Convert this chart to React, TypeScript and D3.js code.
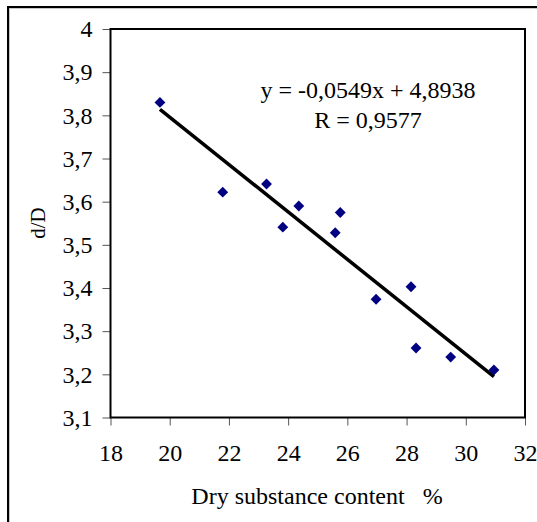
import * as d3 from "d3";
import React, { useRef, useEffect } from "react";

// measured points: dry substance content (%) vs d/D
const dryContent = [19.67, 21.79, 23.27, 23.82, 24.36, 25.59, 25.76, 26.97, 28.15, 28.32, 29.49, 30.95];
const ratioDD = [3.83, 3.622, 3.641, 3.541, 3.59, 3.528, 3.575, 3.374, 3.403, 3.261, 3.24, 3.21];

const xTicks = [18, 20, 22, 24, 26, 28, 30, 32];
const yTicks = [3.1, 3.2, 3.3, 3.4, 3.5, 3.6, 3.7, 3.8, 3.9, 4];

// linear trend from the chart
const slope = -0.0549;
const intercept = 4.8938;
const equationLines = ["y = -0,0549x + 4,8938", "R = 0,9577"];

const xTitle = "Dry substance content   %";
const yTitle = "d/D";

const W = 537;
const H = 522;
const FONT = "Liberation Serif, DejaVu Serif, serif";

const App = () => {
  const svgRef = useRef<SVGSVGElement>(null);

  useEffect(() => {
    const svg = d3.select(svgRef.current);
    svg.selectAll("*").remove();

    const plot = { left: 110.5, right: 525, top: 29, bottom: 417.5 };

    const xScale = d3.scaleLinear().domain([18, 32]).range([plot.left, plot.right]);
    const yScale = d3.scaleLinear().domain([3.1, 4]).range([plot.bottom, plot.top]);

    const comma = (d: number) => String(d).replace(".", ",");

    // outer chart frame (runs off the picture at right and bottom)
    svg
      .append("rect")
      .attr("x", 9.5)
      .attr("y", 8.5)
      .attr("width", W)
      .attr("height", H)
      .attr("fill", "none")
      .attr("stroke", "#c8c8c8")
      .attr("stroke-width", 1);
    svg
      .append("rect")
      .attr("x", 8)
      .attr("y", 7)
      .attr("width", W)
      .attr("height", H)
      .attr("fill", "none")
      .attr("stroke", "#000")
      .attr("stroke-width", 2);

    // axes
    const yAxis = svg
      .append("g")
      .attr("transform", `translate(${plot.left},0)`)
      .call(d3.axisLeft(yScale).tickValues(yTicks).tickSize(8).tickPadding(10).tickFormat((d) => comma(d as number)));

    const xAxis = svg
      .append("g")
      .attr("transform", `translate(0,${plot.bottom})`)
      .call(d3.axisBottom(xScale).tickValues(xTicks).tickSize(8).tickPadding(18).tickFormat((d) => String(d)));

    [xAxis, yAxis].forEach((g) => {
      g.attr("font-family", FONT).attr("font-size", 24);
      g.select(".domain").remove();
      g.selectAll(".tick line").attr("stroke", "#555").attr("stroke-width", 1);
      g.selectAll(".tick text").attr("fill", "#000");
    });

    // plot area border
    svg
      .append("rect")
      .attr("x", plot.left)
      .attr("y", plot.top)
      .attr("width", plot.right - plot.left)
      .attr("height", plot.bottom - plot.top)
      .attr("fill", "none")
      .attr("stroke", "#000")
      .attr("stroke-width", 2);

    // trend line between the smallest and largest x
    const xExtent = d3.extent(dryContent) as [number, number];
    const trend = xExtent.map((x) => [x, slope * x + intercept] as [number, number]);
    svg
      .append("path")
      .datum(trend)
      .attr(
        "d",
        d3
          .line<[number, number]>()
          .x((d) => xScale(d[0]))
          .y((d) => yScale(d[1]))
      )
      .attr("fill", "none")
      .attr("stroke", "#000")
      .attr("stroke-width", 3.5);

    // diamond markers
    const diamond = d3.symbol().type(d3.symbolDiamond2).size(75);
    svg
      .selectAll(".pt")
      .data(dryContent.map((x, i) => ({ x, y: ratioDD[i] })))
      .enter()
      .append("path")
      .attr("class", "pt")
      .attr("d", diamond)
      .attr("transform", (d) => `translate(${xScale(d.x)},${yScale(d.y)})`)
      .attr("fill", "#000080");

    // equation label
    svg
      .selectAll(".eq")
      .data(equationLines)
      .enter()
      .append("text")
      .attr("class", "eq")
      .attr("x", 368)
      .attr("y", (d, i) => 97.5 + i * 30)
      .attr("text-anchor", "middle")
      .attr("font-family", FONT)
      .attr("font-size", 24)
      .text((d) => d);

    // axis titles
    svg
      .append("text")
      .attr("x", 317)
      .attr("y", 504)
      .attr("text-anchor", "middle")
      .attr("font-family", FONT)
      .attr("font-size", 24)
      .style("white-space", "pre")
      .text(xTitle);

    svg
      .append("text")
      .attr("transform", "translate(45,223) rotate(-90)")
      .attr("text-anchor", "middle")
      .attr("font-family", FONT)
      .attr("font-size", 21)
      .text(yTitle);
  }, []);

  return (
    <svg
      ref={svgRef}
      width={W}
      height={H}
      style={{ position: "absolute", left: 0, top: 0, background: "#fff" }}
    ></svg>
  );
};

export default App;
